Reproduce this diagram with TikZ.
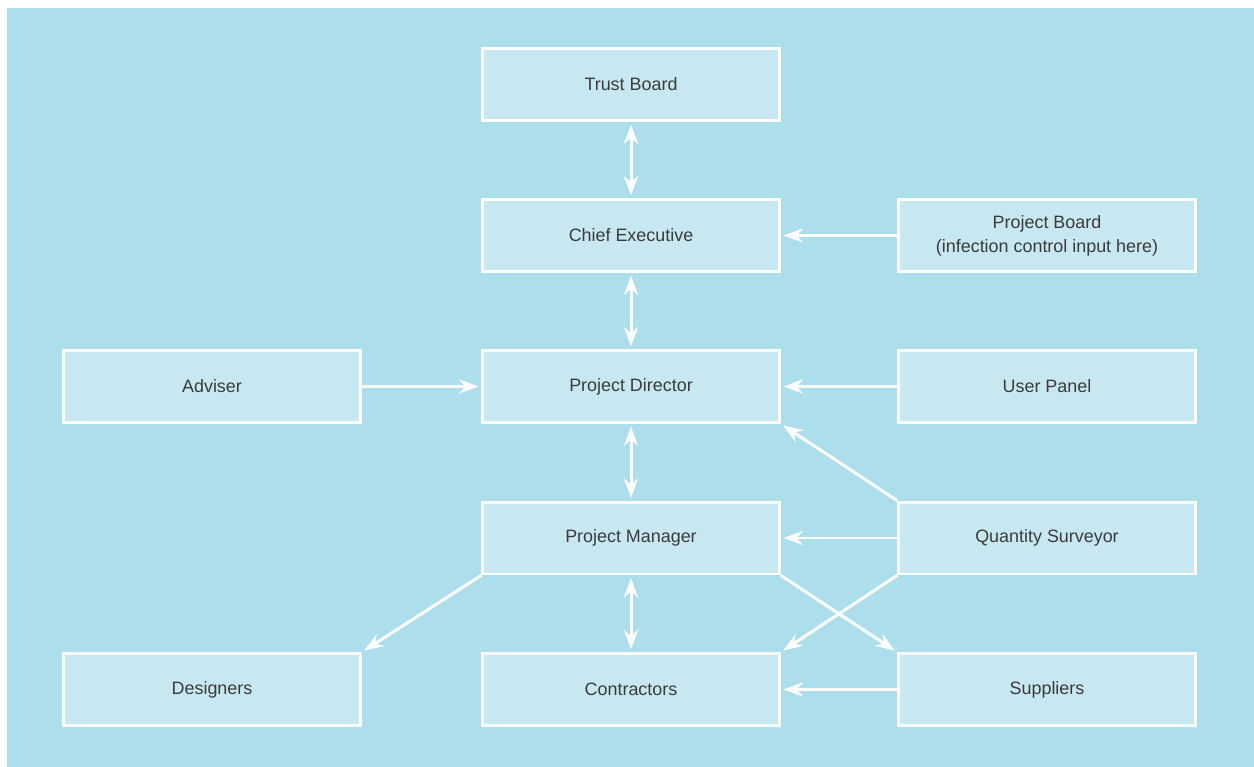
\documentclass[tikz,border=0pt]{standalone}
\usepackage{fontspec}
\setmainfont{Liberation Sans}
\usetikzlibrary{arrows.meta}
\definecolor{bgblue}{HTML}{ADDEEB}
\definecolor{boxblue}{HTML}{C8E8F1}
\definecolor{txtgrey}{HTML}{3A3A3A}
\begin{document}
\begin{tikzpicture}[x=0.02cm, y=-0.02cm,
    orgbox/.style={draw=white, line width=1.7pt, fill=boxblue, text=txtgrey,
      minimum width=5.94cm, minimum height=1.44cm, align=center,
      font=\fontsize{10.2}{13.6}\selectfont},
    link/.style={white, line width=1.7pt, shorten >=1.5pt, shorten <=1.5pt},
    >={Stealth[length=11pt, width=8pt]}]
  \useasboundingbox (0,0) rectangle (1254,767);
  \fill[bgblue] (7,8) rectangle (1254,767);

  \node[orgbox] (trust) at (631,84.5) {Trust Board};
  \node[orgbox] (chief) at (631,235.5) {Chief Executive};
  \node[orgbox] (board) at (1047,235.5) {Project Board\\(infection control input here)};
  \node[orgbox] (adviser) at (212,386.5) {Adviser};
  \node[orgbox] (director) at (631,386.5) {Project Director};
  \node[orgbox] (users) at (1047,386.5) {User Panel};
  \node[orgbox] (manager) at (631,538) {Project Manager};
  \node[orgbox] (surveyor) at (1047,538) {Quantity Surveyor};
  \node[orgbox] (designers) at (212,689.5) {Designers};
  \node[orgbox] (contractors) at (631,689.5) {Contractors};
  \node[orgbox] (suppliers) at (1047,689.5) {Suppliers};

  \draw[<->, link] (trust) -- (chief);
  \draw[<->, link] (chief) -- (director);
  \draw[<->, link] (director) -- (manager);
  \draw[<->, link] (manager) -- (contractors);
  \draw[->, link, shorten <=0pt] (board) -- (chief);
  \draw[->, link, shorten <=0pt] (adviser) -- (director);
  \draw[->, link, shorten <=0pt] (users) -- (director);
  \draw[->, link, shorten <=0pt] (surveyor) -- (manager);
  \draw[->, link, shorten <=0pt] (suppliers) -- (contractors);
  \draw[->, link, shorten <=0pt] (surveyor.north west) -- (director.south east);
  \draw[->, link, shorten <=0pt] (surveyor.south west) -- (contractors.north east);
  \draw[->, link, shorten <=0pt] (manager.south east) -- (suppliers.north west);
  \draw[->, link, shorten <=0pt] (manager.south west) -- (designers.north east);
\end{tikzpicture}
\end{document}
